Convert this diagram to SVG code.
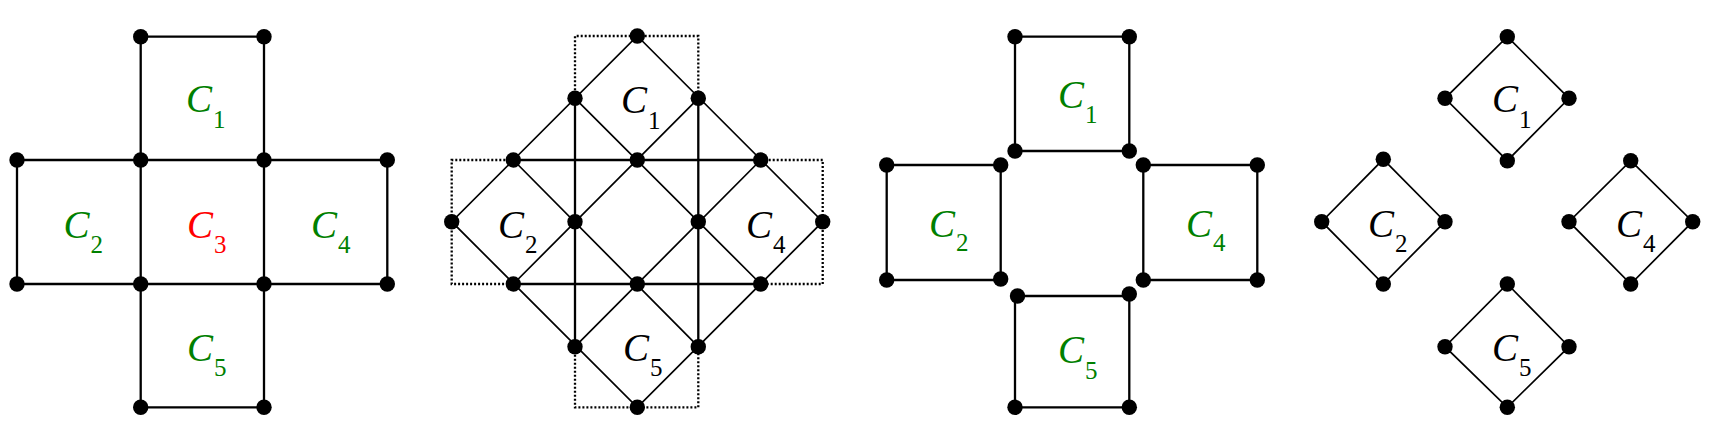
<svg xmlns="http://www.w3.org/2000/svg" width="1716" height="438" viewBox="0 0 1716 438">
<style>
.e{stroke:#000;stroke-width:2.3;fill:none;stroke-linecap:butt}
.d{stroke:#000;stroke-width:1.7;fill:none;stroke-linecap:round}
.dot{stroke:#000;stroke-width:2.3;fill:none;stroke-dasharray:2 2}
.n{fill:#000}
text{font-family:'Liberation Serif','Times New Roman','DejaVu Serif',serif}
.c{font-size:39px;font-style:italic}
.s{font-size:25px}
.g{fill:#008000}
.r{fill:#ff0000}
.k{fill:#000}
</style>
<rect width="1716" height="438" fill="#fff"/>

<!-- Panel 1 -->
<g id="p1-connectors">
<path class="e" d="M140.7 36.7H264V407.3H140.7Z"/>
<path class="e" d="M17 160H387.3V284H17Z"/>
</g>
<g id="p1-C1"><text class="g c" x="186" y="112">C</text><text class="g s" x="213" y="128">1</text></g>
<g id="p1-C2"><text class="g c" x="63.5" y="238">C</text><text class="g s" x="90.5" y="253">2</text></g>
<g id="p1-C3"><text class="r c" x="187" y="238">C</text><text class="r s" x="214" y="253">3</text></g>
<g id="p1-C4"><text class="g c" x="311" y="238">C</text><text class="g s" x="338" y="253">4</text></g>
<g id="p1-C5"><text class="g c" x="187" y="361">C</text><text class="g s" x="214" y="376">5</text></g>
<g id="p1-nodes">
<circle class="n" cx="140.7" cy="36.7" r="7.7"/><circle class="n" cx="264" cy="36.7" r="7.7"/>
<circle class="n" cx="17" cy="160" r="7.7"/><circle class="n" cx="140.7" cy="160" r="7.7"/><circle class="n" cx="264" cy="160" r="7.7"/><circle class="n" cx="387.3" cy="160" r="7.7"/>
<circle class="n" cx="17" cy="284" r="7.7"/><circle class="n" cx="140.7" cy="284" r="7.7"/><circle class="n" cx="264" cy="284" r="7.7"/><circle class="n" cx="387.3" cy="284" r="7.7"/>
<circle class="n" cx="140.7" cy="407.3" r="7.7"/><circle class="n" cx="264" cy="407.3" r="7.7"/>
</g>

<!-- Panel 2 -->
<g id="p2-connectors">
<path class="dot" d="M575 98.3V36H698.3V98.3"/>
<path class="dot" d="M513.3 160H451.7V284H513.3"/>
<path class="dot" d="M760.7 160H822.7V284H760.7"/>
<path class="dot" d="M575 346.7V407.3H698.3V346.7"/>
<path class="e" d="M513.3 160H760.7M513.3 284H760.7M575 98.3V346.7M698.3 98.3V346.7"/>
<path class="d" d="M637.3 36L822.7 221.7L637.3 407.3L451.7 221.7Z"/>
<path class="d" d="M575 98.3L760.7 284M698.3 98.3L513.3 284M513.3 160L698.3 346.7M760.7 160L575 346.7"/>
</g>
<g id="p2-C1"><text class="k c" x="621" y="113">C</text><text class="k s" x="648" y="129">1</text></g>
<g id="p2-C2"><text class="k c" x="498" y="238">C</text><text class="k s" x="525" y="253">2</text></g>
<g id="p2-C4"><text class="k c" x="746" y="238">C</text><text class="k s" x="773" y="253">4</text></g>
<g id="p2-C5"><text class="k c" x="623" y="361">C</text><text class="k s" x="650" y="376">5</text></g>
<g id="p2-nodes">
<circle class="n" cx="637.3" cy="36" r="7.7"/>
<circle class="n" cx="575" cy="98.3" r="7.7"/><circle class="n" cx="698.3" cy="98.3" r="7.7"/>
<circle class="n" cx="513.3" cy="160" r="7.7"/><circle class="n" cx="637.3" cy="160" r="7.7"/><circle class="n" cx="760.7" cy="160" r="7.7"/>
<circle class="n" cx="451.7" cy="221.7" r="7.7"/><circle class="n" cx="575" cy="221.7" r="7.7"/><circle class="n" cx="698.3" cy="221.7" r="7.7"/><circle class="n" cx="822.7" cy="221.7" r="7.7"/>
<circle class="n" cx="513.3" cy="284" r="7.7"/><circle class="n" cx="637.3" cy="284" r="7.7"/><circle class="n" cx="760.7" cy="284" r="7.7"/>
<circle class="n" cx="575" cy="346.7" r="7.7"/><circle class="n" cx="698.3" cy="346.7" r="7.7"/>
<circle class="n" cx="637.3" cy="407.3" r="7.7"/>
</g>

<!-- Panel 3 -->
<g id="p3-connectors">
<path class="e" d="M1015 36.7H1129.3V151H1015Z"/>
<path class="e" d="M886.7 165H1000.7V280H886.7Z"/>
<path class="e" d="M1143.3 165H1257.3V280H1143.3Z"/>
<path class="e" d="M1017 296H1129.3V407.3H1015V296"/>
</g>
<g id="p3-C1"><text class="g c" x="1058" y="108">C</text><text class="g s" x="1085" y="123">1</text></g>
<g id="p3-C2"><text class="g c" x="929" y="237">C</text><text class="g s" x="956" y="251">2</text></g>
<g id="p3-C4"><text class="g c" x="1186" y="237">C</text><text class="g s" x="1213" y="251">4</text></g>
<g id="p3-C5"><text class="g c" x="1058" y="363">C</text><text class="g s" x="1085" y="379">5</text></g>
<g id="p3-nodes">
<circle class="n" cx="1015" cy="36.7" r="7.7"/><circle class="n" cx="1129.3" cy="36.7" r="7.7"/><circle class="n" cx="1015" cy="151" r="7.7"/><circle class="n" cx="1129.3" cy="151" r="7.7"/>
<circle class="n" cx="886.7" cy="165" r="7.7"/><circle class="n" cx="1000.7" cy="165" r="7.7"/><circle class="n" cx="886.7" cy="280" r="7.7"/><circle class="n" cx="1000.7" cy="279" r="7.7"/>
<circle class="n" cx="1143.3" cy="165" r="7.7"/><circle class="n" cx="1257.3" cy="165" r="7.7"/><circle class="n" cx="1143.3" cy="280" r="7.7"/><circle class="n" cx="1257.3" cy="280" r="7.7"/>
<circle class="n" cx="1017.5" cy="296" r="7.7"/><circle class="n" cx="1129.3" cy="294" r="7.7"/><circle class="n" cx="1015" cy="407.3" r="7.7"/><circle class="n" cx="1129.3" cy="407.3" r="7.7"/>
</g>

<!-- Panel 4 -->
<g id="p4-connectors">
<path class="d" d="M1507.3 36.7L1569 98.3L1507.3 160.7L1445 98.3Z"/>
<path class="d" d="M1383.3 159.3L1445 221.7L1383.3 284L1321.7 221.7Z"/>
<path class="d" d="M1630.7 160.7L1692.7 221.7L1630.7 284L1569 221.7Z"/>
<path class="d" d="M1507.3 284L1569 346.7L1507.3 407.3L1445 346.7Z"/>
</g>
<g id="p4-C1"><text class="k c" x="1492" y="112">C</text><text class="k s" x="1519" y="128">1</text></g>
<g id="p4-C2"><text class="k c" x="1368" y="237">C</text><text class="k s" x="1395" y="252">2</text></g>
<g id="p4-C4"><text class="k c" x="1616" y="237">C</text><text class="k s" x="1643" y="252">4</text></g>
<g id="p4-C5"><text class="k c" x="1492" y="361">C</text><text class="k s" x="1519" y="376">5</text></g>
<g id="p4-nodes">
<circle class="n" cx="1507.3" cy="36.7" r="7.7"/><circle class="n" cx="1445" cy="98.3" r="7.7"/><circle class="n" cx="1569" cy="98.3" r="7.7"/><circle class="n" cx="1507.3" cy="160.7" r="7.7"/>
<circle class="n" cx="1383.3" cy="159.3" r="7.7"/><circle class="n" cx="1321.7" cy="221.7" r="7.7"/><circle class="n" cx="1445" cy="221.7" r="7.7"/><circle class="n" cx="1383.3" cy="284" r="7.7"/>
<circle class="n" cx="1630.7" cy="160.7" r="7.7"/><circle class="n" cx="1569" cy="221.7" r="7.7"/><circle class="n" cx="1692.7" cy="221.7" r="7.7"/><circle class="n" cx="1630.7" cy="284" r="7.7"/>
<circle class="n" cx="1507.3" cy="284" r="7.7"/><circle class="n" cx="1445" cy="346.7" r="7.7"/><circle class="n" cx="1569" cy="346.7" r="7.7"/><circle class="n" cx="1507.3" cy="407.3" r="7.7"/>
</g>
</svg>
